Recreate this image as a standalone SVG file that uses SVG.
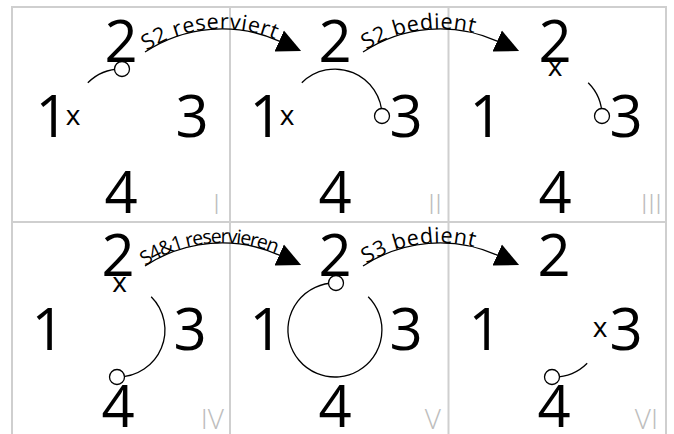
<svg xmlns="http://www.w3.org/2000/svg" xmlns:xlink="http://www.w3.org/1999/xlink" width="674" height="434" viewBox="0 0 674 434">
<style>
.grid{stroke:#cfcfcf;stroke-width:2;fill:none}
.d{font-family:"Open Sans","Noto Sans","Liberation Sans",sans-serif;font-size:58px;fill:#000;text-anchor:middle}
.x{font-family:"Open Sans","Noto Sans","Liberation Sans",sans-serif;font-size:28px;fill:#000;text-anchor:middle}
.r{font-family:"Open Sans","Noto Sans","Liberation Sans",sans-serif;font-size:28px;font-weight:300;fill:#bdbdbd;text-anchor:end}
.lbl{font-family:"Open Sans","Noto Sans","Liberation Sans",sans-serif;font-size:21.5px;fill:#000}
.lbl.s{font-size:19.5px}
.conn{stroke:#000;stroke-width:1.3;fill:none}
.tok{stroke:#000;stroke-width:1.3;fill:#fff}
</style>
<defs>
<marker id="ah" markerUnits="userSpaceOnUse" markerWidth="30" markerHeight="30" refX="0" refY="12" orient="auto" viewBox="0 0 30 24">
<path d="M0,0.5 L24,12 L0,23.5 Z" fill="#000"/>
</marker>
<path id="lp" d="M145,52 A139.5,139.5 0 0 1 279.2,41.1"/>
</defs>
<g id="grid">
<line class="grid" x1="12" y1="7" x2="12" y2="434"/>
<line class="grid" x1="230" y1="7" x2="230" y2="434"/>
<line class="grid" x1="448.5" y1="7" x2="448.5" y2="434"/>
<line class="grid" x1="666" y1="7" x2="666" y2="434"/>
<line class="grid" x1="11" y1="7" x2="667" y2="7"/>
<line class="grid" x1="11" y1="222" x2="667" y2="222"/>
</g>
<g id="cell1">
<text class="d" x="121" y="62">2</text><text class="d" x="52" y="137">1</text><text class="d" x="192" y="137">3</text><text class="d" x="121" y="213">4</text>
<text class="x" x="73" y="125">x</text>
<text class="r" x="220" y="214">I</text>
<path class="conn" d="M87.8,82.8 A47,47 0 0 1 121,69"/>
<circle class="tok" cx="122" cy="69" r="7.5"/>
</g>
<g id="cell2">
<text class="d" x="335" y="62">2</text><text class="d" x="266" y="137">1</text><text class="d" x="406" y="137">3</text><text class="d" x="335" y="213">4</text>
<text class="x" x="287" y="125">x</text>
<text class="r" x="442" y="214">II</text>
<path class="conn" d="M301.8,82.8 A47,47 0 0 1 382,116"/>
<circle class="tok" cx="382" cy="116" r="7.5"/>
</g>
<g id="cell3">
<text class="d" x="555" y="62">2</text><text class="d" x="486" y="137">1</text><text class="d" x="626" y="137">3</text><text class="d" x="555" y="213">4</text>
<text class="x" x="555" y="76">x</text>
<text class="r" x="662" y="214">III</text>
<path class="conn" d="M588.2,82.8 A47,47 0 0 1 602,116"/>
<circle class="tok" cx="602" cy="116" r="7.5"/>
</g>
<g id="cell4">
<text class="d" x="118" y="276">2</text><text class="d" x="48" y="350">1</text><text class="d" x="190" y="350">3</text><text class="d" x="118" y="427">4</text>
<text class="x" x="119.5" y="292">x</text>
<text class="r" x="224" y="429">IV</text>
<path class="conn" d="M151.2,296.8 A47,47 0 0 1 118,377"/>
<circle class="tok" cx="117" cy="377" r="7.5"/>
</g>
<g id="cell5">
<text class="d" x="335" y="276">2</text><text class="d" x="266" y="350">1</text><text class="d" x="406" y="350">3</text><text class="d" x="335" y="427">4</text>
<text class="r" x="441" y="429">V</text>
<path class="conn" d="M368.2,296.8 A47,47 0 1 1 335,283"/>
<circle class="tok" cx="336" cy="283" r="7.5"/>
</g>
<g id="cell6">
<text class="d" x="554" y="276">2</text><text class="d" x="485" y="350">1</text><text class="d" x="626" y="350">3</text><text class="d" x="554" y="427">4</text>
<text class="x" x="600" y="337">x</text>
<text class="r" x="658" y="429">VI</text>
<path class="conn" d="M587.2,363.2 A47,47 0 0 1 554,377"/>
<circle class="tok" cx="552" cy="377" r="7.5"/>
</g>
<g id="connectors">
<g transform="translate(0,0)">
<path class="conn" d="M145,52 A139.5,139.5 0 0 1 279.2,41.1" marker-end="url(#ah)"/>
<text class="lbl"><textPath xlink:href="#lp" href="#lp" startOffset="2" textLength="134" lengthAdjust="spacing">S2 reserviert</textPath></text>
</g>
<g transform="translate(218,0)">
<path class="conn" d="M145,52 A139.5,139.5 0 0 1 279.2,41.1" marker-end="url(#ah)"/>
<text class="lbl"><textPath xlink:href="#lp" href="#lp" startOffset="4" textLength="112" lengthAdjust="spacing">S2 bedient</textPath></text>
</g>
<g transform="translate(0,214)">
<path class="conn" d="M145,52 A139.5,139.5 0 0 1 279.2,41.1" marker-end="url(#ah)"/>
<text class="lbl s"><textPath xlink:href="#lp" href="#lp" startOffset="0" textLength="137" lengthAdjust="spacing">S4&amp;1 reservieren</textPath></text>
</g>
<g transform="translate(218,214)">
<path class="conn" d="M145,52 A139.5,139.5 0 0 1 279.2,41.1" marker-end="url(#ah)"/>
<text class="lbl"><textPath xlink:href="#lp" href="#lp" startOffset="4" textLength="112" lengthAdjust="spacing">S3 bedient</textPath></text>
</g>
</g>
</svg>
